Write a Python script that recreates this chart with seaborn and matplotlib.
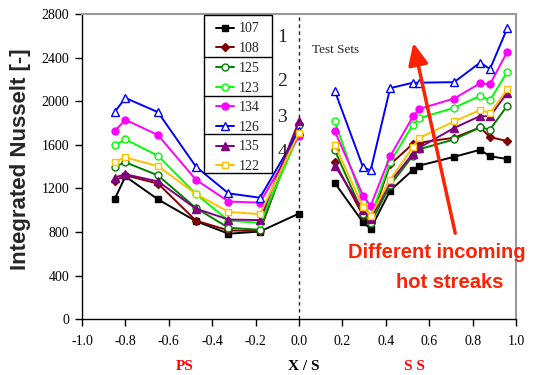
import matplotlib
matplotlib.use("Agg")
import matplotlib.pyplot as plt
from matplotlib.lines import Line2D
from matplotlib.patches import Rectangle
import pandas as pd
import seaborn as sns

# ---------------------------------------------------------------------------
# Data
# ---------------------------------------------------------------------------
x_ps = [-0.85, -0.8, -0.65, -0.475, -0.325, -0.18, 0.0]
x_ss = [0.165, 0.295, 0.33, 0.42, 0.525, 0.555, 0.715, 0.835, 0.88, 0.96]

series = ["107", "108", "125", "123", "134", "126", "135", "122"]

ps_107 = [1100, 1310, 1100, 900, 785, 805, 970]
ss_107 = [1250, 890, 830, 1180, 1370, 1410, 1490, 1555, 1495, 1470]
ps_108 = [1270, 1320, 1245, 905, 815, 810, 1790]
ss_108 = [1440, 950, 900, 1420, 1610, 1620, 1665, 1760, 1670, 1635]
ps_125 = [1400, 1440, 1320, 1020, 840, 820, 1780]
ss_125 = [1550, 970, 880, 1230, 1500, 1560, 1650, 1760, 1740, 1960]
ps_123 = [1595, 1650, 1500, 1150, 905, 885, 1700]
ss_123 = [1815, 1075, 940, 1440, 1785, 1845, 1940, 2050, 2010, 2270]
ps_134 = [1725, 1830, 1690, 1280, 1080, 1070, 1680]
ss_134 = [1725, 1135, 1040, 1495, 1860, 1930, 2025, 2165, 2155, 2455]
ps_126 = [1900, 2030, 1900, 1400, 1155, 1115, 1730]
ss_126 = [2095, 1395, 1365, 2120, 2170, 2170, 2175, 2355, 2295, 2670]
ps_135 = [1300, 1330, 1265, 1015, 915, 910, 1820]
ss_135 = [1410, 1000, 920, 1260, 1520, 1575, 1755, 1865, 1860, 2080]
ps_122 = [1445, 1485, 1405, 1150, 985, 965, 1710]
ss_122 = [1600, 1030, 950, 1280, 1580, 1665, 1815, 1920, 1890, 2110]

ps_vals = [ps_107, ps_108, ps_125, ps_123, ps_134, ps_126, ps_135, ps_122]
ss_vals = [ss_107, ss_108, ss_125, ss_123, ss_134, ss_126, ss_135, ss_122]

y_ticks = [0, 400, 800, 1200, 1600, 2000, 2400, 2800]
x_ticks = [-1.0, -0.8, -0.6, -0.4, -0.2, 0.0, 0.2, 0.4, 0.6, 0.8, 1.0]

# ---------------------------------------------------------------------------
# Style
# ---------------------------------------------------------------------------
STYLE = {
    "107": dict(color="#000000", marker="s", mfc="#000000"),
    "108": dict(color="#800000", marker="D", mfc="#800000"),
    "125": dict(color="#008000", marker="o", mfc="white"),
    "123": dict(color="#00ff00", marker="o", mfc="white"),
    "134": dict(color="#ff00ff", marker="o", mfc="#ff00ff"),
    "126": dict(color="#0000ff", marker="^", mfc="white"),
    "135": dict(color="#800080", marker="^", mfc="#800080"),
    "122": dict(color="#ffc000", marker="s", mfc="white"),
}
MSIZE = {"s": 5, "D": 4, "o": 5, "^": 6}
RED = "#ff2200"
SERIF = ["Liberation Serif", "DejaVu Serif"]
SANS = ["Liberation Sans", "DejaVu Sans"]
W, H = 560, 375


def fx(px):
    return px / W


def fy(py):
    return 1 - py / H


sns.set_theme(style="white")
plt.rcParams["font.family"] = SERIF
plt.rcParams["axes.unicode_minus"] = False

fig = plt.figure(figsize=(5.6, 3.75), dpi=100)
ax = fig.add_axes([fx(82), fy(319.3), 434 / W, 305.3 / H])

handles = []
for name, ps, ss in zip(series, ps_vals, ss_vals):
    st = STYLE[name]
    kw = dict(color=st["color"], marker=st["marker"], markersize=MSIZE[st["marker"]],
              markerfacecolor=st["mfc"], markeredgecolor=st["color"], markeredgewidth=1.0,
              linewidth=1.4, ax=ax)
    for xs, ys in ((x_ps, ps), (x_ss, ss)):
        df = pd.DataFrame({"x": xs, "y": ys})
        sns.lineplot(data=df, x="x", y="y", estimator=None, **kw)
    handles.append(Line2D([], [], color=st["color"], marker=st["marker"],
                          markersize=MSIZE[st["marker"]], markerfacecolor=st["mfc"],
                          markeredgecolor=st["color"], linewidth=1.4))

ax.axvline(0, color="#222222", linestyle=(0, (2.5, 2.5)), linewidth=1, zorder=1)

ax.set_xlim(-1.0, 1.0)
ax.set_ylim(0, 2800)
ax.set_xticks(x_ticks)
ax.set_xticklabels([f"{t:.1f}" for t in x_ticks])
ax.set_yticks(y_ticks)
ax.set_yticklabels([str(t) for t in y_ticks])
ax.tick_params(axis="both", direction="out", length=5, width=1, colors="black",
               labelsize=10, bottom=True, left=True)
ax.tick_params(axis="x", pad=6)
ax.tick_params(axis="y", pad=4)
ax.set_xlabel("")
ax.set_ylabel("Integrated Nusselt [-]", fontsize=16, fontweight="bold", family=SANS)
ax.yaxis.set_label_coords(-0.118, 0.525)

for side in ("left", "bottom"):
    ax.spines[side].set_color("black")
    ax.spines[side].set_linewidth(1.0)
for side in ("top", "right"):
    ax.spines[side].set_color("#9a9a9a")
    ax.spines[side].set_linewidth(1.5)

# legend: frameless, with hand-drawn box and group separators
leg = ax.legend(handles, series, loc="upper left",
                bbox_to_anchor=((216 - 82) / 434, (319.3 - 22.5) / 305.3),
                frameon=False, fontsize=10, handlelength=1.3, handletextpad=0.35,
                labelspacing=0.48, borderpad=0, borderaxespad=0)
fig.add_artist(Rectangle((fx(203.5), fy(172.5)), (272 - 203.5) / W, (172.5 - 15) / H,
                         transform=fig.transFigure, fill=False, edgecolor="black",
                         linewidth=1.0, zorder=5))
for py in (56.5, 95.5, 133.5):
    fig.add_artist(Line2D([fx(203.5), fx(272)], [fy(py), fy(py)],
                          transform=fig.transFigure, color="black", linewidth=1.0))

# group numbers and notes
for txt, (px, py) in zip(["1", "2", "3", "4"], [(282, 37), (282, 81), (282, 118), (283, 153)]):
    fig.text(fx(px), fy(py), txt, fontsize=14, ha="center", va="center")
fig.text(fx(312), fy(50), "Test Sets", fontsize=9.5, ha="left", va="center")

ax.annotate("", xy=(0.527, 2535), xytext=(0.72, 790),
            arrowprops=dict(arrowstyle="-|>,head_length=1.1,head_width=0.5",
                            color=RED, lw=2.5, shrinkA=0, shrinkB=0))
fig.text(fx(437), fy(253), "Different incoming", color=RED, fontsize=14.5,
         fontweight="bold", ha="center", va="center", family=SANS)
fig.text(fx(450), fy(282), "hot streaks", color=RED, fontsize=14.5,
         fontweight="bold", ha="center", va="center", family=SANS)

fig.text(fx(185), fy(366), "PS", color="red", fontsize=11, fontweight="bold",
         ha="center", va="center")
fig.text(fx(304), fy(366), "X / S", color="black", fontsize=11, fontweight="bold",
         ha="center", va="center")
fig.text(fx(414), fy(366), "S S", color="red", fontsize=11, fontweight="bold",
         ha="center", va="center")

fig.savefig("out.png", dpi=100)
